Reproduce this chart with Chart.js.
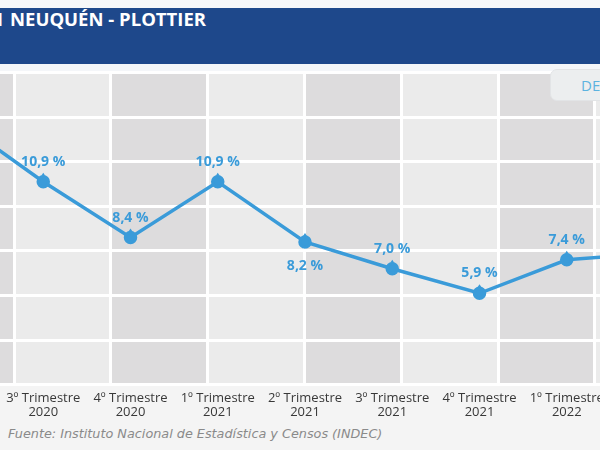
<!DOCTYPE html>
<html>
<head>
<meta charset="utf-8">
<script src="https://cdn.jsdelivr.net/npm/chart.js@4"></script>
<style>
    body { margin: 0; width: 600px; height: 450px; overflow: hidden; background: #f4f4f4; position: relative; font-family: 'Open Sans', sans-serif; }
    .topstrip { position: absolute; left: 0; top: 0; width: 600px; height: 8px; background: #f6f7f9; }
    .header { position: absolute; left: 0; top: 8px; width: 600px; height: 56px; background: #1e488b; }
    .title { position: absolute; left: 10px; top: -2px; color: #fff; font-weight: bold; font-size: 18.5px; white-space: nowrap; }
    .title .pre { position: absolute; right: 100%; padding-right: 7px; }
    .below { position: absolute; left: 0; top: 64px; width: 600px; height: 8px; background: #f4f6f9; }
    .chartBox { position: absolute; left: -100px; top: 64px; width: 820px; height: 362px; }
    .btn { position: absolute; left: 550px; top: 69px; width: 120px; height: 30px; background: #eceeef; border: 1px solid #e2e4e6; border-radius: 7px; color: #5cb3e0; font-size: 15px; line-height: 30px; padding-left: 30px; white-space: nowrap; }
    .source { position: absolute; left: 8px; top: 426px; color: #8a8a8a; font-style: italic; font-size: 12.8px; font-family: 'DejaVu Sans', sans-serif; }
</style>
</head>
<body>
<div class="topstrip"></div>
<div class="header"><div class="title"><span class="pre">DESOCUPACIÓN</span>NEUQUÉN - PLOTTIER</div></div>
<div class="below"></div>
<div class="chartBox"><canvas id="chart"></canvas></div>
<div class="btn">DESCARGAR</div>
<div class="source">Fuente: Instituto Nacional de Estadística y Censos (INDEC)</div>

<script>
// trimestres (el primero y el último quedan fuera del recorte)
const trimestres = [
    ['2º Trimestre', '2020'],
    ['3º Trimestre', '2020'],
    ['4º Trimestre', '2020'],
    ['1º Trimestre', '2021'],
    ['2º Trimestre', '2021'],
    ['3º Trimestre', '2021'],
    ['4º Trimestre', '2021'],
    ['1º Trimestre', '2022'],
    ['2º Trimestre', '2022']
];

// tasa de desocupación (%)
const desocupacion = [13.7, 10.9, 8.4, 10.9, 8.2, 7.0, 5.9, 7.4, 7.7];

// etiquetas que van debajo del punto
const etiquetasAbajo = [4];

const AZUL = '#3a9bd9';

// fondo en columnas alternadas
const fondoColumnas = {
    id: 'fondoColumnas',
    beforeDraw(chart) {
        const { ctx, chartArea } = chart;
        const x2 = chart.scales.x2;
        ctx.save();
        ctx.beginPath();
        ctx.rect(chartArea.left, chartArea.top, chartArea.width, chartArea.height);
        ctx.clip();
        for (let k = -1; k < 8; k++) {
            const a = x2.getPixelForValue(k);
            const b = x2.getPixelForValue(k + 1);
            ctx.fillStyle = (k % 2 !== 0) ? '#dddcdd' : '#ebebeb';
            ctx.fillRect(a, chartArea.top, b - a, chartArea.height);
        }
        ctx.restore();
    }
};

// etiquetas de valor
const etiquetasValor = {
    id: 'etiquetasValor',
    afterDatasetsDraw(chart) {
        const { ctx } = chart;
        const meta = chart.getDatasetMeta(0);
        ctx.save();
        ctx.font = 'bold 14px "Open Sans", sans-serif';
        ctx.fillStyle = AZUL;
        ctx.textAlign = 'center';
        ctx.textBaseline = 'middle';
        meta.data.forEach((pt, i) => {
            const txt = desocupacion[i].toFixed(1).replace('.', ',') + ' %';
            const dy = etiquetasAbajo.includes(i) ? 24 : -20;
            ctx.fillText(txt, pt.x, pt.y + dy);
            // pequeña marca sobre el punto
            ctx.beginPath();
            ctx.moveTo(pt.x - 2, pt.y - 6);
            ctx.lineTo(pt.x, pt.y - 9);
            ctx.lineTo(pt.x + 2, pt.y - 6);
            ctx.fill();
        });
        ctx.restore();
    }
};

new Chart(document.getElementById('chart'), {
    type: 'line',
    data: {
        labels: trimestres,
        datasets: [{
            data: desocupacion,
            borderColor: AZUL,
            backgroundColor: AZUL,
            borderWidth: 3.5,
            pointRadius: 5,
            pointHoverRadius: 5,
            tension: 0
        }]
    },
    options: {
        responsive: true,
        maintainAspectRatio: false,
        animation: false,
        layout: { padding: { left: 56, right: 66, top: 7, bottom: 0 } },
        plugins: { legend: { display: false }, tooltip: { enabled: false } },
        scales: {
            x: {
                offset: false,
                grid: { display: false, drawTicks: false },
                border: { display: false },
                ticks: {
                    color: '#383838',
                    font: { family: '"Open Sans", sans-serif', size: 13, lineHeight: 1.05 },
                    maxRotation: 0,
                    autoSkip: false,
                    padding: 7
                }
            },
            x2: {
                type: 'linear',
                position: 'top',
                min: -0.6,
                max: 6.61,
                afterBuildTicks: axis => {
                    axis.ticks = [-1, 0, 1, 2, 3, 4, 5, 6, 7].map(v => ({ value: v }));
                },
                grid: { color: '#ffffff', lineWidth: 3, drawTicks: false },
                border: { display: false },
                ticks: { display: false }
            },
            y: {
                min: 1.8,
                max: 15.8,
                ticks: { stepSize: 2, display: false },
                grid: { color: '#ffffff', lineWidth: 3, drawTicks: false },
                border: { display: false }
            }
        }
    },
    plugins: [fondoColumnas, etiquetasValor]
});
</script>
</body>
</html>
